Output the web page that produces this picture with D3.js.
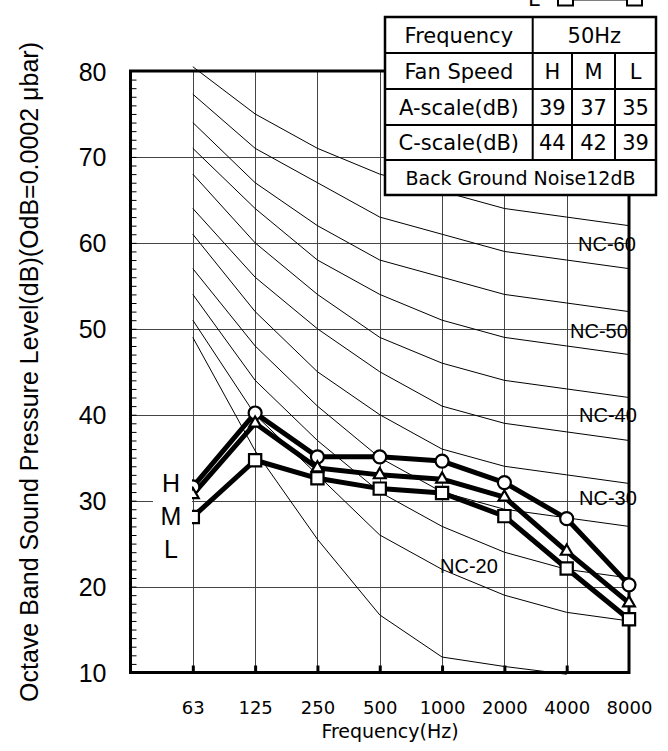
<!DOCTYPE html>
<html>
<head>
<meta charset="utf-8">
<script src="https://cdnjs.cloudflare.com/ajax/libs/d3/7.8.5/d3.min.js"></script>
<style>
  html, body { margin: 0; padding: 0; background: #fff; }
  svg { display: block; }
</style>
</head>
<body>
<svg id="chart" width="668" height="751"></svg>
<script>
// ---------------- data ----------------
const bands = ["63", "125", "250", "500", "1000", "2000", "4000", "8000"];
const seriesNames = ["H", "M", "L"];
const valuesH = [31.6, 40.2, 35.1, 35.1, 34.6, 32.1, 27.9, 20.2];
const valuesM = [30.7, 39.0, 33.8, 33.0, 32.5, 30.4, 24.1, 18.1];
const valuesL = [28.1, 34.7, 32.6, 31.4, 30.9, 28.2, 22.1, 16.2];
const yTicks = [10, 20, 30, 40, 50, 60, 70, 80];

const nc65 = [80.5, 75, 71, 68, 66, 64, 63, 62];
const nc60 = [77.3, 71, 67, 63, 61, 59, 58, 57];
const nc55 = [74, 67, 62, 58, 56, 54, 53, 52];
const nc50 = [71, 64, 58, 54, 51, 49, 48, 47];
const nc45 = [68, 60, 54, 49, 46, 44, 43, 42];
const nc40 = [64, 56, 50, 45, 41, 39, 38, 37];
const nc35 = [61, 52, 45, 40, 36, 34, 33, 32];
const nc30 = [57, 48, 41, 35, 31, 29, 28, 27];
const nc25 = [54, 44, 37, 31, 27, 24, 22, 21];
const nc20 = [51, 40, 33, 26, 22, 19, 17, 16];
const nc15 = [49, 35.8, 25.5, 16.7, 11.8, 10.7, 9.8];
const ncLabels = ["NC-60", "NC-50", "NC-40", "NC-30", "NC-20"];

const tableFrequency = "50Hz";
const aScale = [39, 37, 35];
const cScale = [44, 42, 39];
const backgroundNoise = "Back Ground Noise12dB";

// ---------------- layout ----------------
const svg = d3.select("#chart");
const pL = 130.5, pR = 629, pT = 71, pB = 672.5;
const x = d3.scaleLinear().domain([-1, bands.length - 1]).range([pL, pR]);
const y = d3.scaleLinear().domain([10, 80]).range([pB, pT]);
const idx = d3.range(bands.length);

// grid
const grid = svg.append("g").attr("stroke", "#444").attr("stroke-width", 1);
grid.selectAll("line.h").data(yTicks.filter(v => v > 10 && v < 80)).join("line").attr("class", "h")
  .attr("x1", pL).attr("x2", pR)
  .attr("y1", d => Math.round(y(d)) + 0.5).attr("y2", d => Math.round(y(d)) + 0.5);
grid.selectAll("line.v").data(idx.slice(0, bands.length - 1)).join("line").attr("class", "v")
  .attr("x1", d => Math.round(x(d)) + 0.5).attr("x2", d => Math.round(x(d)) + 0.5)
  .attr("y1", pT).attr("y2", pB);

// NC curves
const ncCurves = [nc65, nc60, nc55, nc50, nc45, nc40, nc35, nc30, nc25, nc20, nc15];
const ncLine = d3.line().x((d, i) => x(i)).y(d => y(d));
svg.append("g").selectAll("path").data(ncCurves).join("path")
  .attr("d", d => ncLine(d))
  .attr("fill", "none").attr("stroke", "#000").attr("stroke-width", 1);

// NC labels
const ncPos = [[578, y(60) + 8], [570, y(50) + 9], [579, y(40) + 7], [579, y(30) + 4], [440, y(22.4) + 7]];
svg.append("g").selectAll("text").data(ncLabels).join("text")
  .attr("x", (d, i) => ncPos[i][0]).attr("y", (d, i) => ncPos[i][1])
  .attr("font-family", "Liberation Sans, Arial, sans-serif").attr("font-size", 20)
  .attr("fill", "#000").text(d => d);

// left axis minor ticks (inside)
const minor = svg.append("g").attr("transform", `translate(${pL},0)`)
  .call(d3.axisRight(y).ticks(70).tickSize(6).tickFormat(""));
minor.select(".domain").remove();
minor.selectAll("line").attr("stroke", "#000").attr("stroke-width", 1);

// left axis labels
const yAx = svg.append("g").attr("transform", `translate(${pL - 24},0)`)
  .call(d3.axisLeft(y).tickValues(yTicks).tickSize(0).tickPadding(0).tickFormat(d3.format("d")));
yAx.select(".domain").remove();
yAx.selectAll("text").attr("font-family", "Liberation Sans, Arial, sans-serif")
  .attr("font-size", 25).attr("fill", "#000").attr("dy", "0.36em");

// bottom axis ticks (inside)
const bTicks = svg.append("g").attr("transform", `translate(0,${pB})`)
  .call(d3.axisTop(x).tickValues(idx.slice(0, bands.length - 1)).tickSize(7).tickFormat(""));
bTicks.select(".domain").remove();
bTicks.selectAll("line").attr("stroke", "#000").attr("stroke-width", 3);

// bottom axis labels
const xAx = svg.append("g").attr("transform", `translate(0,${pB})`)
  .call(d3.axisBottom(x).tickValues(idx).tickSize(0).tickPadding(0).tickFormat(i => bands[i]));
xAx.select(".domain").remove();
xAx.selectAll("text").attr("font-family", "DejaVu Sans, sans-serif")
  .attr("font-size", 18).attr("fill", "#000").attr("y", 41).attr("dy", 0);

// axis titles
svg.append("text").attr("x", 390).attr("y", 738).attr("text-anchor", "middle")
  .attr("font-family", "DejaVu Sans, sans-serif").attr("font-size", 19)
  .text("Frequency(Hz)");
svg.append("text").attr("transform", "translate(38,372) rotate(-90)").attr("text-anchor", "middle")
  .attr("font-family", "Liberation Sans, Arial, sans-serif").attr("font-size", 25)
  .text("Octave Band Sound Pressure Level(dB)(OdB=0.0002 \u03bcbar)");

// frame
svg.append("rect").attr("x", pL).attr("y", pT).attr("width", pR - pL).attr("height", pB - pT)
  .attr("fill", "none").attr("stroke", "#000").attr("stroke-width", 3);

// series lines
const series = [valuesL, valuesM, valuesH];
const sLine = d3.line().x((d, i) => x(i)).y(d => y(d));
svg.append("g").selectAll("path").data(series).join("path")
  .attr("d", d => sLine(d)).attr("fill", "none").attr("stroke", "#000")
  .attr("stroke-width", 5).attr("stroke-linejoin", "round");

// markers
const mk = svg.append("g").attr("fill", "#fff").attr("stroke", "#000").attr("stroke-width", 2.2);
mk.selectAll("circle").data(valuesH).join("circle")
  .attr("cx", (d, i) => x(i)).attr("cy", d => y(d)).attr("r", 6.5);
mk.selectAll("path.tri").data(valuesM).join("path").attr("class", "tri")
  .attr("transform", (d, i) => `translate(${x(i)},${y(d)})`)
  .attr("d", d3.symbol(d3.symbolTriangle, 60)());
mk.selectAll("path.sq").data(valuesL).join("path").attr("class", "sq")
  .attr("transform", (d, i) => `translate(${x(i)},${y(d)})`)
  .attr("d", d3.symbol(d3.symbolSquare, 150)());

// H M L labels box
svg.append("rect").attr("x", 153).attr("y", 467).attr("width", 39).attr("height", 96).attr("fill", "#fff");
svg.append("g").selectAll("text").data(seriesNames).join("text")
  .attr("x", 171).attr("y", (d, i) => 492 + i * 33).attr("text-anchor", "middle")
  .attr("font-family", "Liberation Sans, Arial, sans-serif").attr("font-size", 25)
  .text(d => d);

// cut-off legend at top
svg.append("text").attr("x", 528).attr("y", 6).attr("font-family", "DejaVu Sans, sans-serif")
  .attr("font-size", 21).text("L");
svg.append("line").attr("x1", 573).attr("x2", 627).attr("y1", -1.5).attr("y2", -1.5)
  .attr("stroke", "#000").attr("stroke-width", 4);
svg.append("g").selectAll("rect").data([565.5, 634.5]).join("rect")
  .attr("x", d => d - 7.5).attr("y", -9.5).attr("width", 15).attr("height", 15)
  .attr("fill", "#fff").attr("stroke", "#000").attr("stroke-width", 2);

// table
const tx = [385, 532.7, 572, 615, 656];
const ty = [17, 53, 89, 125, 160, 195];
const tb = svg.append("g");
tb.append("rect").attr("x", tx[0]).attr("y", ty[0]).attr("width", tx[4] - tx[0]).attr("height", ty[5] - ty[0])
  .attr("fill", "#fff").attr("stroke", "#000").attr("stroke-width", 2.5);
const tl = tb.append("g").attr("stroke", "#000").attr("stroke-width", 2);
ty.slice(1, 5).forEach(v => tl.append("line").attr("x1", tx[0]).attr("x2", tx[4]).attr("y1", v).attr("y2", v));
tl.append("line").attr("x1", tx[1]).attr("x2", tx[1]).attr("y1", ty[0]).attr("y2", ty[4]);
[tx[2], tx[3]].forEach(v => tl.append("line").attr("x1", v).attr("x2", v).attr("y1", ty[1]).attr("y2", ty[4]));

const cx1 = (tx[0] + tx[1]) / 2;
const rowsText = [
  ["Frequency", cx1, 0], [tableFrequency, (tx[1] + tx[4]) / 2, 0],
  ["Fan Speed", cx1, 1],
  ["A-scale(dB)", cx1, 2],
  ["C-scale(dB)", cx1, 3]
];
seriesNames.forEach((s, i) => rowsText.push([s, (tx[i + 1] + tx[i + 2]) / 2, 1]));
aScale.forEach((s, i) => rowsText.push([String(s), (tx[i + 1] + tx[i + 2]) / 2, 2]));
cScale.forEach((s, i) => rowsText.push([String(s), (tx[i + 1] + tx[i + 2]) / 2, 3]));
tb.append("g").selectAll("text").data(rowsText).join("text")
  .attr("x", d => d[1]).attr("y", d => (ty[d[2]] + ty[d[2] + 1]) / 2 + 7.5)
  .attr("text-anchor", "middle").attr("font-family", "DejaVu Sans, sans-serif").attr("font-size", 21)
  .text(d => d[0]);
tb.append("text").attr("x", (tx[0] + tx[4]) / 2).attr("y", (ty[4] + ty[5]) / 2 + 7)
  .attr("text-anchor", "middle").attr("font-family", "DejaVu Sans, sans-serif").attr("font-size", 19)
  .text(backgroundNoise);
</script>
</body>
</html>
